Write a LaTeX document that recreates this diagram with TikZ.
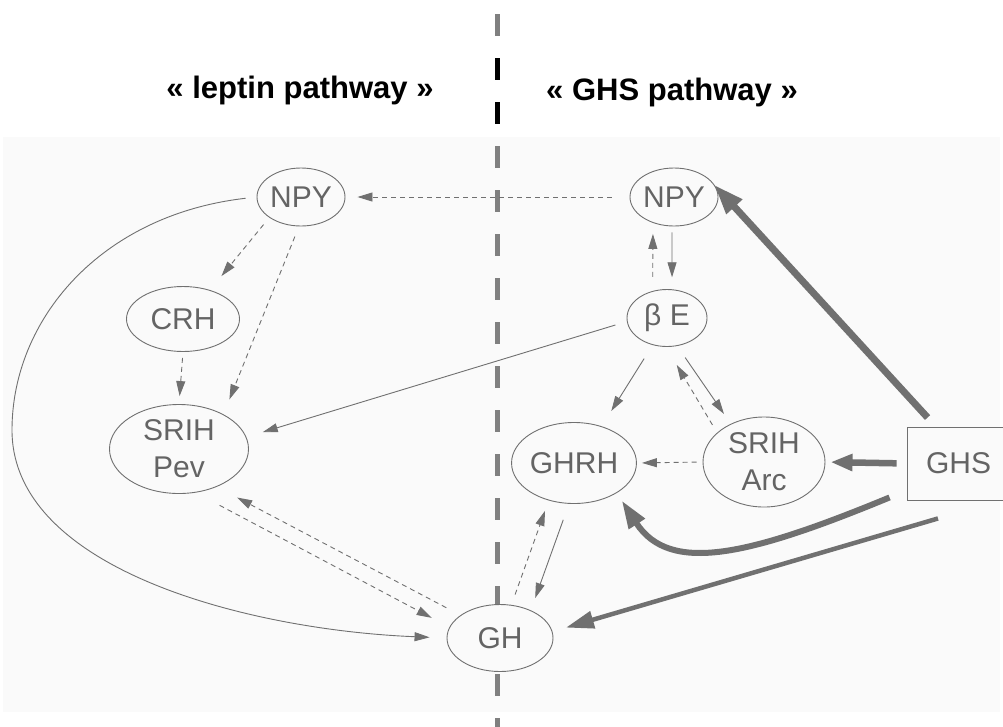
\documentclass[tikz,border=0pt]{standalone}
\usepackage{fontspec}
\setmainfont{Liberation Sans}
\usetikzlibrary{arrows.meta,shapes.geometric}
\definecolor{bg}{RGB}{250,250,250}
\definecolor{ln}{RGB}{112,112,112}
\definecolor{tx}{RGB}{100,100,100}
\definecolor{vd}{RGB}{128,128,128}
\begin{document}
\begin{tikzpicture}[x=1pt,y=-1pt,
  ell/.style={ellipse,draw=ln,line width=0.9pt,fill=bg,inner sep=0pt,text=tx,
    font=\fontsize{30}{37}\selectfont,align=center},
  sln/.style={draw=ln,line width=0.9pt,-{Triangle[length=15pt,width=9pt]}},
  dln/.style={sln,dash pattern=on 5pt off 4pt},
  ttl/.style={font=\bfseries\fontsize{31}{36}\selectfont,anchor=base,inner sep=0pt}]
\useasboundingbox (0,0) rectangle (1003,726);
\fill[white] (0,0) rectangle (1003,726);
\fill[bg] (3,137) rectangle (1000,712);
% vertical divider
\draw[vd,line width=5pt,dash pattern=on 22pt off 22pt] (497,14) -- (497,740);
\draw[black,line width=5pt] (497,58) -- (497,80) (497,102) -- (497,124);
% titles
\node[ttl] (t1) at (300,98) {« leptin pathway »};
\node[ttl] (t2) at (672,100) {« GHS pathway »};
% nodes
\node[ell,minimum width=88pt,minimum height=58pt] (npyL) at (301,197) {NPY};
\node[ell,minimum width=113pt,minimum height=65pt] (crh) at (183,319) {CRH};
\node[ell,minimum width=139pt,minimum height=89pt] (srihP) at (179,449) {SRIH\\Pev};
\node[ell,minimum width=88pt,minimum height=58pt] (npyR) at (674,197) {NPY};
\node[ell,minimum width=80pt,minimum height=57pt] (be) at (667,318) {β E};
\node[ell,minimum width=122pt,minimum height=81pt] (ghrh) at (574,463) {GHRH};
\node[ell,minimum width=122pt,minimum height=90pt] (srihA) at (764,462) {SRIH\\Arc};
\node[ell,minimum width=106pt,minimum height=67pt] (gh) at (500,638) {GH};
\node[rectangle,draw=ln,line width=0.9pt,fill=bg,inner sep=0pt,text=tx,
  font=\fontsize{30}{37}\selectfont,minimum width=103pt,minimum height=73pt] (ghs) at (958.5,463.5) {GHS};
% leptin side
\draw[dln,shorten <=18pt,shorten >=12pt] (npyR.west) -- (npyL.east);
\draw[dln,shorten <=9pt,shorten >=18pt] (npyL.213) -- (crh.47);
\draw[dln,shorten <=11pt,shorten >=16pt] (npyL.266) -- (srihP.38);
\draw[dln,shorten <=6pt,shorten >=8pt] (crh.south) -- (srihP.north);
\draw[sln,shorten <=12pt,shorten >=17pt] (be.185) -- (srihP.10);
\draw[sln,shorten <=11pt,shorten >=17pt] (npyL.west) .. controls (100,215) and (12,320) .. (12,430)
  .. controls (12,570) and (250,630) .. (gh.west);
\draw[dln,shorten <=16pt,shorten >=23pt] (gh.150) -- (srihP.315);
\draw[dln,shorten <=27pt,shorten >=20pt] (srihP.291) -- (gh.168);
% GHS side
\draw[dln,shorten <=14pt,shorten >=11pt] (be.118) -- (npyR.231);
\draw[sln,shorten <=6pt,shorten >=12pt] (npyR.266) -- (be.80);
\draw[sln,shorten <=16pt,shorten >=18pt] (be.242) -- (ghrh.53);
\draw[sln,shorten <=14pt,shorten >=12pt] (be.290) -- (srihA.131);
\draw[dln,shorten <=9pt,shorten >=21pt] (srihA.148) -- (be.268);
\draw[dln,shorten <=6pt,shorten >=5pt] (srihA.west) -- (ghrh.east);
\draw[dln,shorten <=11pt,shorten >=11pt] (gh.71) -- (ghrh.236);
\draw[sln,shorten <=17pt,shorten >=13pt] (ghrh.263) -- (gh.42);
% thick GHS arrows
\draw[ln,line width=6.5pt,-{Triangle[length=22pt,width=16pt]},shorten <=10pt,shorten >=5pt] (ghs.west) -- (srihA.east);
\draw[ln,line width=7pt,-{Triangle[length=30pt,width=20pt]},shorten >=9pt] ([xshift=21pt,yshift=9pt]ghs.north west) -- (npyR.29);
\draw[ln,line width=6pt,-{Triangle[length=28pt,width=18pt]},shorten >=9pt] ([xshift=-17pt,yshift=3pt]ghs.south west)
  .. controls (750,555) and (670,575) .. (ghrh.325);
\draw[ln,line width=4.5pt,-{Triangle[length=28pt,width=17pt]},shorten >=14pt] ([xshift=-20.5pt,yshift=-18pt]ghs.south) -- (gh.7);
\end{tikzpicture}
\end{document}
